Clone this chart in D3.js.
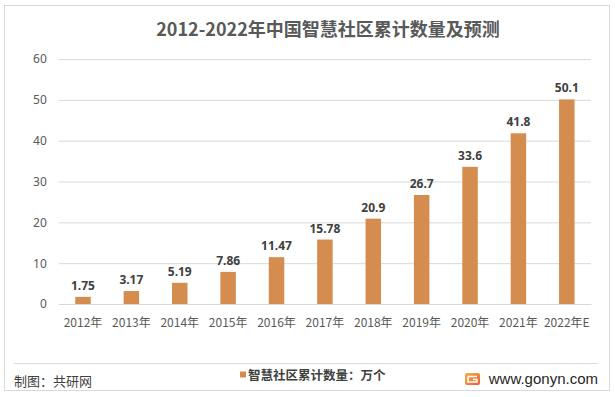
<!DOCTYPE html>
<html>
<head>
<meta charset="utf-8">
<script src="https://cdn.jsdelivr.net/npm/d3@7"></script>
<style>
html,body{margin:0;padding:0;background:#fff;}
svg{display:block;}
text{font-family:"Noto Sans CJK SC","Noto Sans",sans-serif;}
</style>
</head>
<body>
<svg id="chart" width="615" height="397"></svg>
<script>
const categories = ["2012年","2013年","2014年","2015年","2016年","2017年","2018年","2019年","2020年","2021年","2022年E"];
const values = [1.75,3.17,5.19,7.86,11.47,15.78,20.9,26.7,33.6,41.8,50.1];
const valueLabels = ["1.75","3.17","5.19","7.86","11.47","15.78","20.9","26.7","33.6","41.8","50.1"];
const yTicks = [0,10,20,30,40,50,60];
const title = "2012-2022年中国智慧社区累计数量及预测";
const seriesName = "智慧社区累计数量：万个";
const sourceText = "制图：共研网";
const siteText = "www.gonyn.com";

const svg = d3.select("#chart");
const barColor = "#D48D4F";

// frame
svg.append("rect").attr("x",4.5).attr("y",5.5).attr("width",605).attr("height",385)
  .attr("fill","#fff").attr("stroke","#d9d9d9").attr("stroke-width",1);

const x = d3.scaleBand().domain(categories).range([58.8,591]).paddingInner(0.68).paddingOuter(0.34);
const y = d3.scaleLinear().domain([0,60]).range([304,59]);

// title
svg.append("text").attr("x",328).attr("y",36).attr("text-anchor","middle")
  .attr("font-size",18).attr("font-weight","bold").attr("fill","#595959").text(title);

// gridlines + y labels
const yAxis = d3.axisLeft(y).tickValues(yTicks).tickSize(-(591-58.8)).tickPadding(12);
const gy = svg.append("g").attr("transform","translate(58.8,0)").call(yAxis);
gy.select(".domain").remove();
gy.selectAll(".tick line").attr("stroke","#d9d9d9").attr("stroke-width",1);
gy.selectAll(".tick text").attr("font-size",12).attr("fill","#595959")
  .style("font-family","'Noto Sans',sans-serif");

// x axis
const xAxis = d3.axisBottom(x).tickSize(0).tickPadding(14);
const gx = svg.append("g").attr("transform","translate(0,304)").call(xAxis);
gx.select(".domain").attr("stroke","#d9d9d9");
gx.selectAll(".tick text").attr("font-size",12).attr("fill","#595959");

// bars
svg.append("g").selectAll("rect").data(values).join("rect")
  .attr("x",(d,i)=>x(categories[i]))
  .attr("width",x.bandwidth())
  .attr("y",d=>y(d))
  .attr("height",d=>y(0)-y(d))
  .attr("fill",barColor);

// value labels
svg.append("g").selectAll("text").data(values).join("text")
  .attr("x",(d,i)=>x(categories[i])+x.bandwidth()/2)
  .attr("y",d=>y(d)-7)
  .attr("text-anchor","middle")
  .attr("font-size",12).attr("font-weight","bold").attr("fill","#404040")
  .style("font-family","'Noto Sans',sans-serif")
  .text((d,i)=>valueLabels[i]);

// footer separator
svg.append("line").attr("x1",14).attr("x2",598).attr("y1",363.5).attr("y2",363.5)
  .attr("stroke","#d9d9d9").attr("stroke-width",1);

// legend
svg.append("rect").attr("x",240).attr("y",371.5).attr("width",6).attr("height",6).attr("fill",barColor);
svg.append("text").attr("x",248).attr("y",379.5).attr("font-size",12.5).attr("font-weight","bold")
  .attr("fill","#404040").text(seriesName);

// source
svg.append("text").attr("x",14).attr("y",386).attr("font-size",13).attr("fill","#404040").text(sourceText);

// logo
const defs = svg.append("defs");
const grad = defs.append("linearGradient").attr("id","lg").attr("x1","0").attr("y1","0").attr("x2","1").attr("y2","1");
grad.append("stop").attr("offset","0").attr("stop-color","#F7B04A");
grad.append("stop").attr("offset","1").attr("stop-color","#EE5A2E");
svg.append("rect").attr("x",465).attr("y",373).attr("width",15).attr("height",12).attr("rx",2).attr("fill","url(#lg)");
svg.append("path").attr("d","M468,376.5 H477 M468,376.5 V382 H477 V379.5 H473")
  .attr("fill","none").attr("stroke","#fff").attr("stroke-width",1.6);

// site
svg.append("text").attr("x",598).attr("y",384).attr("text-anchor","end").attr("font-size",15)
  .attr("fill","#262626").style("font-family","'Liberation Sans',Arial,sans-serif").text(siteText);
</script>
</body>
</html>
